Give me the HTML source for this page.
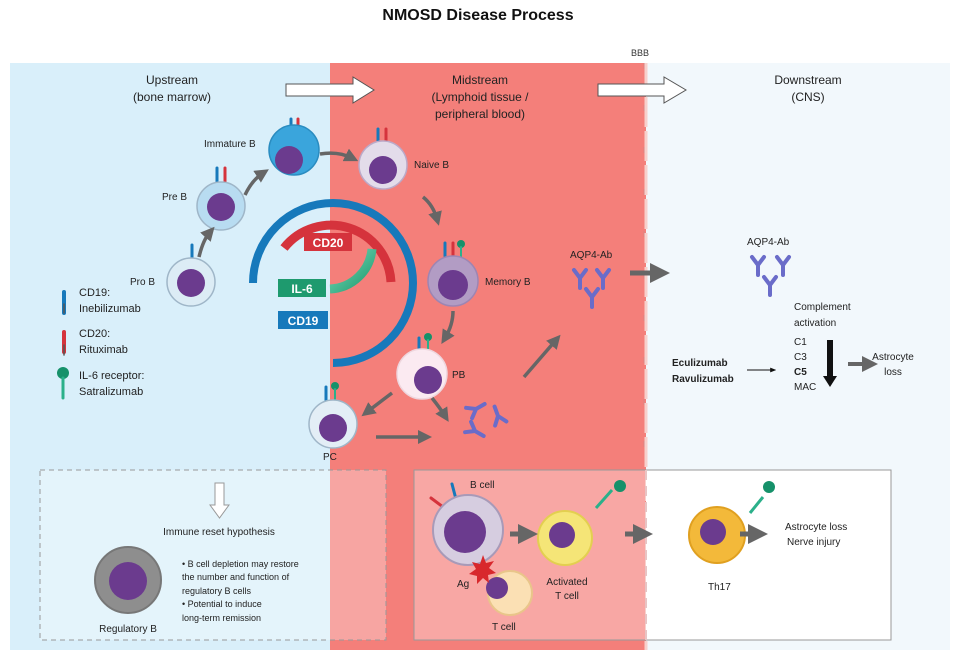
<!DOCTYPE html>
<html><head><meta charset="utf-8"><style>
html,body{margin:0;padding:0;background:#fff;}
svg{display:block;font-family:"Liberation Sans",Arial,sans-serif;}
</style></head><body>
<svg width="957" height="656" viewBox="0 0 957 656" xmlns="http://www.w3.org/2000/svg">
<defs>
<g id="ab"><path d="M0,0 L0,10 M0,0 L-6,-8 M0,0 L6,-8" stroke="#6a6cc9" stroke-width="4" fill="none" stroke-linecap="round"/></g>
<marker id="ah" viewBox="0 0 10 10" refX="5" refY="5" markerWidth="4" markerHeight="4" orient="auto"><path d="M0,0 L10,5 L0,10 z" fill="#666"/></marker>
<marker id="ahk" viewBox="0 0 10 10" refX="8" refY="5" markerWidth="6" markerHeight="6" orient="auto"><path d="M0,1 L10,5 L0,9 z" fill="#111"/></marker>
<linearGradient id="gg" x1="0" y1="0" x2="1" y2="1"><stop offset="0" stop-color="#7fe0c0"/><stop offset="1" stop-color="#1e9a6e"/></linearGradient>
</defs>
<text x="478" y="20" text-anchor="middle" font-size="16" font-weight="bold" fill="#111">NMOSD Disease Process</text>
<text x="631" y="56" font-size="9" fill="#333">BBB</text>
<rect x="10" y="63" width="320" height="587" fill="#d9effa"/>
<rect x="330" y="63" width="316" height="587" fill="#f47f7a"/>
<rect x="646" y="63" width="304" height="587" fill="#f2f8fc"/>
<path d="M646,63 L646,650" stroke="#f8d0cc" stroke-width="3" stroke-dasharray="30,4"/>
<path d="M644,63 L644,650" stroke="#c9888a" stroke-width="1" stroke-dasharray="6,36" opacity="0.6"/>
<g font-size="12" fill="#222" text-anchor="middle">
<text x="172" y="84">Upstream</text><text x="172" y="101">(bone marrow)</text>
<text x="480" y="84">Midstream</text><text x="480" y="101">(Lymphoid tissue /</text><text x="480" y="118">peripheral blood)</text>
<text x="808" y="84">Downstream</text><text x="808" y="101">(CNS)</text>
</g>
<path d="M286,84 L353,84 L353,77 L374,90 L353,103 L353,96 L286,96 Z" fill="#fff" stroke="#555" stroke-width="1"/>
<path d="M598,84 L664,84 L664,77 L686,90 L664,103 L664,96 L598,96 Z" fill="#fff" stroke="#555" stroke-width="1"/>
<path d="M253,283 A80,80 0 1 1 333,363" fill="none" stroke="#1779bb" stroke-width="8"/>
<path d="M284,248 A60,60 0 0 1 391,282" fill="none" stroke="#d5333c" stroke-width="9"/>
<path d="M372,249 A44,44 0 0 1 330,289" fill="none" stroke="url(#gg)" stroke-width="9"/>
<rect x="304" y="233" width="48" height="18" fill="#d5333c"/><text x="328" y="247" text-anchor="middle" font-size="12" font-weight="bold" fill="#fff">CD20</text>
<rect x="278" y="279" width="48" height="18" fill="#1e9a6e"/><text x="302" y="293" text-anchor="middle" font-size="12" font-weight="bold" fill="#fff">IL-6</text>
<rect x="278" y="311" width="50" height="18" fill="#1779bb"/><text x="303" y="325" text-anchor="middle" font-size="12" font-weight="bold" fill="#fff">CD19</text>
<g stroke-linecap="round">
<line x1="64" y1="292" x2="64" y2="313" stroke="#1779bb" stroke-width="4"/><line x1="64" y1="304" x2="64" y2="313" stroke="#555" stroke-width="1.5"/>
<line x1="64" y1="332" x2="64" y2="352" stroke="#d5333c" stroke-width="4"/><line x1="64" y1="345" x2="64" y2="355" stroke="#555" stroke-width="1.5"/>
<circle cx="63" cy="373" r="6" fill="#16916a"/><line x1="63" y1="378" x2="63" y2="398" stroke="#2bb08a" stroke-width="3"/>
</g>
<g font-size="11" fill="#222">
<text x="79" y="296">CD19:</text><text x="79" y="312">Inebilizumab</text>
<text x="79" y="337">CD20:</text><text x="79" y="353">Rituximab</text>
<text x="79" y="379">IL-6 receptor:</text><text x="79" y="395">Satralizumab</text>
</g>
<g stroke-linecap="round">
<line x1="192" y1="245" x2="192" y2="258" stroke="#1779bb" stroke-width="3"/>
<line x1="217" y1="168" x2="217" y2="182" stroke="#1779bb" stroke-width="3"/><line x1="225" y1="168" x2="225" y2="182" stroke="#d5333c" stroke-width="3"/>
<line x1="291" y1="119" x2="291" y2="132" stroke="#1779bb" stroke-width="3"/><line x1="298" y1="119" x2="298" y2="132" stroke="#d5333c" stroke-width="3"/>
<line x1="378" y1="129" x2="378" y2="142" stroke="#1779bb" stroke-width="3"/><line x1="386" y1="129" x2="386" y2="142" stroke="#d5333c" stroke-width="3"/>
<line x1="445" y1="243" x2="445" y2="256" stroke="#1779bb" stroke-width="3"/><line x1="453" y1="243" x2="453" y2="256" stroke="#d5333c" stroke-width="3"/><circle cx="461" cy="244" r="4" fill="#16916a"/><line x1="461" y1="247" x2="461" y2="258" stroke="#2bb08a" stroke-width="2"/>
<line x1="419" y1="338" x2="419" y2="352" stroke="#1779bb" stroke-width="3"/><circle cx="428" cy="337" r="4" fill="#16916a"/><line x1="428" y1="340" x2="428" y2="352" stroke="#2bb08a" stroke-width="2"/>
<line x1="326" y1="387" x2="326" y2="400" stroke="#1779bb" stroke-width="3"/><circle cx="335" cy="386" r="4" fill="#16916a"/><line x1="335" y1="389" x2="335" y2="401" stroke="#2bb08a" stroke-width="2"/>
</g>
<g stroke="#9fb6c8" stroke-width="1.5">
<circle cx="191" cy="282" r="24" fill="#dcecf5"/>
<circle cx="221" cy="206" r="24" fill="#b8dcf1"/>
<circle cx="294" cy="150" r="25" fill="#3aa5dc" stroke="#2a8cc0"/>
<circle cx="383" cy="165" r="24" fill="#e3dcea" stroke="#bba9c8"/>
<circle cx="453" cy="281" r="25" fill="#b29cc4" stroke="#9d85b3"/>
<circle cx="422" cy="374" r="25" fill="#fbeaf1" stroke="#eed6de"/>
<circle cx="333" cy="424" r="24" fill="#e3eef6"/>
</g>
<g fill="#6b3b8e">
<circle cx="191" cy="283" r="14"/><circle cx="221" cy="207" r="14"/><circle cx="289" cy="160" r="14"/>
<circle cx="383" cy="170" r="14"/><circle cx="453" cy="285" r="15"/><circle cx="428" cy="380" r="14"/><circle cx="333" cy="428" r="14"/>
</g>
<g font-size="10" fill="#222">
<text x="130" y="285">Pro B</text><text x="162" y="200">Pre B</text><text x="204" y="147">Immature B</text>
<text x="414" y="168">Naive B</text><text x="485" y="285">Memory B</text><text x="452" y="378">PB</text><text x="323" y="460">PC</text>
</g>
<g stroke="#666" stroke-width="3.5" fill="none" marker-end="url(#ah)">
<path d="M199,257 Q203,240 210,232"/>
<path d="M245,195 Q252,180 263,173"/>
<path d="M320,154 Q338,151 352,158"/>
<path d="M423,197 Q433,205 437,219"/>
<path d="M453,311 Q453,325 445,338"/>
<path d="M392,393 Q380,402 367,412"/>
<path d="M432,398 Q440,408 445,416"/>
<path d="M376,437 L425,437"/>
<path d="M524,377 L556,340"/>
</g>
<use href="#ab" transform="translate(476,409) rotate(-120)"/>
<use href="#ab" transform="translate(498,416) rotate(-200)"/>
<use href="#ab" transform="translate(475,431) rotate(-60)"/>
<use href="#ab" transform="translate(580,278)"/><use href="#ab" transform="translate(603,278)"/><use href="#ab" transform="translate(592,297)"/>
<use href="#ab" transform="translate(758,265)"/><use href="#ab" transform="translate(783,265)"/><use href="#ab" transform="translate(770,285)"/>
<text x="570" y="258" font-size="10" fill="#222">AQP4-Ab</text>
<text x="747" y="245" font-size="10" fill="#222">AQP4-Ab</text>
<path d="M630,273 L660,273" stroke="#666" stroke-width="5" marker-end="url(#ah)"/>
<g font-size="10" fill="#222">
<text x="794" y="310">Complement</text><text x="794" y="326">activation</text>
<text x="794" y="345">C1</text><text x="794" y="360">C3</text><text x="794" y="375" font-weight="bold">C5</text><text x="794" y="390">MAC</text>
<text x="893" y="360" text-anchor="middle">Astrocyte</text><text x="893" y="375" text-anchor="middle">loss</text>
<text x="672" y="366" font-weight="bold">Eculizumab</text><text x="672" y="382" font-weight="bold">Ravulizumab</text>
</g>
<path d="M747,370 L775,370" stroke="#111" stroke-width="1" marker-end="url(#ahk)"/>
<path d="M830,340 L830,378" stroke="#111" stroke-width="6"/><path d="M823,376 L837,376 L830,387 Z" fill="#111"/>
<path d="M848,364 L870,364" stroke="#666" stroke-width="4" marker-end="url(#ah)"/>
<rect x="40" y="470" width="346" height="170" fill="#ffffff" fill-opacity="0.3" stroke="#999" stroke-width="1" stroke-dasharray="5,4"/>
<path d="M215,483 L224,483 L224,505 L229,505 L219.5,518 L210,505 L215,505 Z" fill="#fff" stroke="#999" stroke-width="1"/>
<text x="219" y="535" text-anchor="middle" font-size="10" fill="#222">Immune reset hypothesis</text>
<circle cx="128" cy="580" r="33" fill="#8e8e8e" stroke="#777" stroke-width="2"/><circle cx="128" cy="581" r="19" fill="#6b3b8e"/>
<text x="128" y="632" text-anchor="middle" font-size="10" fill="#222">Regulatory B</text>
<g font-size="9" fill="#222"><text x="182" y="567">• B cell depletion may restore</text><text x="182" y="580">the number and function of</text><text x="182" y="594">regulatory B cells</text><text x="182" y="607">• Potential to induce</text><text x="182" y="621">long-term remission</text></g>
<rect x="414" y="470" width="231" height="170" fill="#f8a7a4"/>
<rect x="646" y="470" width="245" height="170" fill="#ffffff"/>
<rect x="414" y="470" width="477" height="170" fill="none" stroke="#999" stroke-width="1"/>
<path d="M646,470 L646,640" stroke="#e8c4c4" stroke-width="2" stroke-dasharray="10,6"/>
<line x1="431" y1="498" x2="447" y2="510" stroke="#d5333c" stroke-width="3" stroke-linecap="round"/>
<line x1="452" y1="484" x2="457" y2="503" stroke="#1779bb" stroke-width="3" stroke-linecap="round"/>
<circle cx="468" cy="530" r="35" fill="#d6cde0" stroke="#a89ab8" stroke-width="2"/><circle cx="465" cy="532" r="21" fill="#6b3b8e"/>
<circle cx="510" cy="593" r="22" fill="#fbe0b4" stroke="#e9c58a" stroke-width="2"/><circle cx="497" cy="588" r="11" fill="#6b3b8e"/>
<path d="M483,555 L486,563 L494,561 L489,568 L496,573 L488,575 L489,583 L483,578 L477,584 L477,576 L469,574 L476,569 L472,562 L480,564 Z" fill="#d8282c"/>
<line x1="596" y1="508" x2="612" y2="490" stroke="#2bb08a" stroke-width="3"/><circle cx="620" cy="486" r="6" fill="#16916a"/>
<circle cx="565" cy="538" r="27" fill="#f5e577" stroke="#e3cf50" stroke-width="2"/><circle cx="562" cy="535" r="13" fill="#6b3b8e"/>
<line x1="750" y1="513" x2="763" y2="497" stroke="#2bb08a" stroke-width="3"/><circle cx="769" cy="487" r="6" fill="#16916a"/>
<circle cx="717" cy="535" r="28" fill="#f3b93a" stroke="#e0a020" stroke-width="2"/><circle cx="713" cy="532" r="13" fill="#6b3b8e"/>
<g font-size="10" fill="#222">
<text x="470" y="488">B cell</text><text x="457" y="587">Ag</text><text x="492" y="630">T cell</text>
<text x="567" y="585" text-anchor="middle">Activated</text><text x="567" y="599" text-anchor="middle">T cell</text>
<text x="708" y="590">Th17</text>
<text x="785" y="530">Astrocyte loss</text><text x="787" y="545">Nerve injury</text>
</g>
<g stroke="#666" stroke-width="5" marker-end="url(#ah)">
<line x1="510" y1="534" x2="528" y2="534"/><line x1="625" y1="534" x2="643" y2="534"/><line x1="740" y1="534" x2="758" y2="534"/>
</g>
</svg>
</body></html>
